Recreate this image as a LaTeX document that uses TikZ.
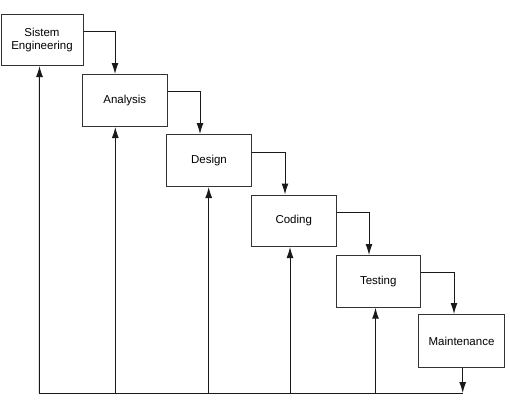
\documentclass[tikz,border=0pt]{standalone}
\usepackage{fontspec}
\setmainfont{Liberation Sans}
\usetikzlibrary{arrows.meta,calc}
\begin{document}
\begin{tikzpicture}[x=1pt,y=-1pt,
  box/.style={draw=black!80, line width=1pt, fill=white, minimum width=85pt, minimum height=52pt,
    inner sep=0pt, font=\fontsize{11.5}{13.5}\selectfont, align=center, anchor=north west},
  conn/.style={draw=black!90, line width=1pt, -{Latex[length=11pt,width=7pt]}},
  plain/.style={draw=black!90, line width=1pt}]
\path[use as bounding box] (0,0) rectangle (510,402);

\node[box, minimum width=82pt, minimum height=51pt] (b1) at (0.5,14) {Sistem\\Engineering};
\node[box, minimum width=84.5pt] (b2) at (82,74) {Analysis};
\node[box] (b3) at (166,134) {Design};
\node[box, minimum width=84.5pt, minimum height=51.5pt] (b4) at (251,194.5) {Coding};
\node[box, minimum width=84.5pt, minimum height=51.7pt] (b5) at (335.5,255) {Testing};
\node[box, minimum width=86pt, minimum height=53pt] (b6) at (418,314) {Maintenance};

% forward connectors
\draw[conn] ($(b1.north east)+(0,17)$) -| ($(b2.north west)+(33,0)$);
\draw[conn] ($(b2.north east)+(0,17.7)$) -| ($(b3.north west)+(34,0)$);
\draw[conn] ($(b3.north east)+(0,18)$) -| ($(b4.north west)+(34,0)$);
\draw[conn] ($(b4.north east)+(0,17.5)$) -| ($(b5.north west)+(33.5,0)$);
\draw[conn] ($(b5.north east)+(0,17.3)$) -| ($(b6.north west)+(36,0)$);

% feedback line
\coordinate (bl) at (39.3,393);
\coordinate (br) at (462.7,393);
\draw[plain] (bl) -- (br);
\draw[conn] ($(b6.south west)+(44.7,0)$) -- (br);

\coordinate (u1) at ($(b1.south west)+(39,0)$);
\coordinate (u2) at ($(b2.south west)+(33.3,0)$);
\coordinate (u3) at ($(b3.south west)+(42.7,0)$);
\coordinate (u4) at ($(b4.south west)+(39,0)$);
\coordinate (u5) at ($(b5.south west)+(40,0)$);
\draw[conn] (bl) -- (u1);
\draw[conn] (bl -| u2) -- (u2);
\draw[conn] (bl -| u3) -- (u3);
\draw[conn] (bl -| u4) -- (u4);
\draw[conn] (bl -| u5) -- (u5);
\end{tikzpicture}
\end{document}
